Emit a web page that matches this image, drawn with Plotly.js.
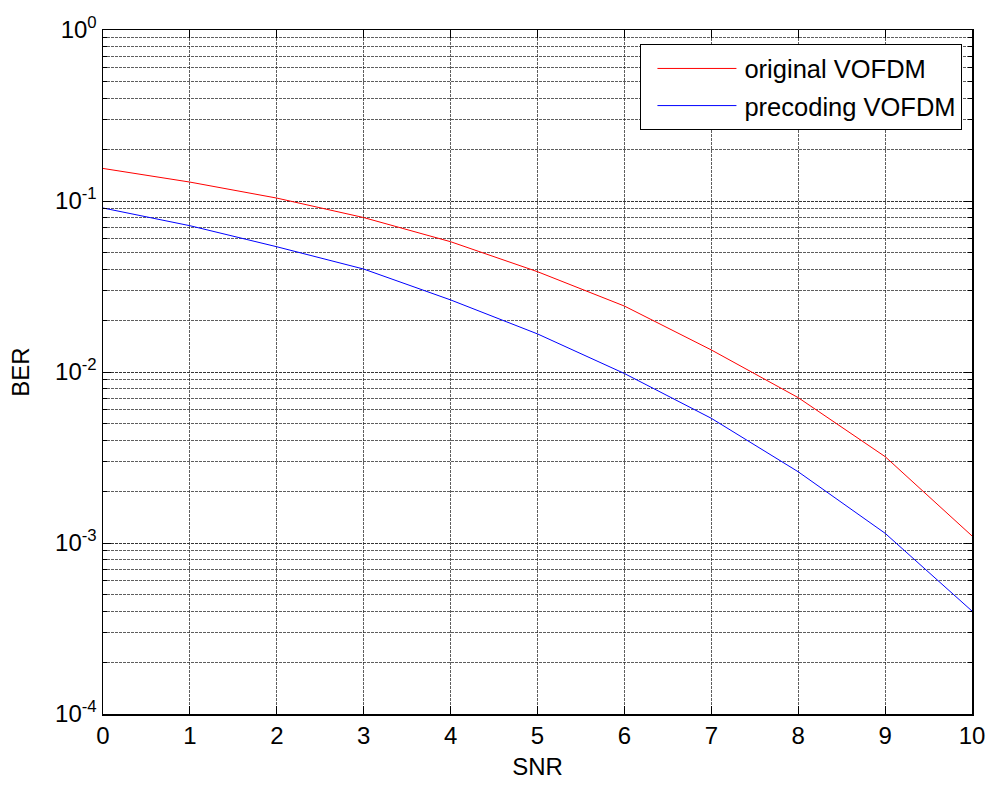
<!DOCTYPE html>
<html>
<head>
<meta charset="utf-8">
<script src="https://cdn.plot.ly/plotly-3.0.1.min.js"></script>
<style>html,body{margin:0;padding:0;background:#fff;}#chart{width:989px;height:785px;}</style>
</head>
<body>
<div id="chart"></div>
<script>
const snr = [0, 1, 2, 3, 4, 5, 6, 7, 8, 9, 10];
const berOriginal = [0.155, 0.129, 0.104, 0.080, 0.0578, 0.0386, 0.0243, 0.01346, 0.00708, 0.0032, 0.00110];
const berPrecoding = [0.091, 0.0717, 0.054, 0.040, 0.0264, 0.0167, 0.0098, 0.00536, 0.00261, 0.00114, 0.0004];
const seriesNames = ['original VOFDM', 'precoding VOFDM'];
const yTickVals = [1e-4, 1e-3, 1e-2, 1e-1, 1];
const yTickText = ['10<sup>-4</sup>', '10<sup>-3</sup>', '10<sup>-2</sup>', '10<sup>-1</sup>', '10<sup>0</sup>'];
const xTickVals = [0, 1, 2, 3, 4, 5, 6, 7, 8, 9, 10];

const fontFam = 'Liberation Sans, Arial, Helvetica, sans-serif';
const gridCol = 'rgba(40,40,40,0.75)';

const traces = [
  {x: snr, y: berOriginal, name: seriesNames[0], legendgroup: 'a', mode: 'lines', line: {color: '#ff0000', width: 1}},
  {x: snr, y: berPrecoding, name: seriesNames[1], legendgroup: 'b', mode: 'lines', line: {color: '#0000ff', width: 1}}
];

const layout = {
  width: 989, height: 785,
  margin: {l: 103, r: 17, t: 30, b: 71},
  paper_bgcolor: '#fff', plot_bgcolor: '#fff',
  font: {family: fontFam, size: 24, color: '#000'},
  showlegend: true,
  legend: {
    x: 0.989, y: 0.979, xanchor: 'right', yanchor: 'top',
    bgcolor: '#fff', bordercolor: '#000', borderwidth: 1,
    font: {family: fontFam, size: 25.5, color: '#000'},
    itemwidth: 93, tracegroupgap: 1
  },
  xaxis: {
    range: [0, 10], tickvals: xTickVals,
    showline: true, linecolor: '#000', linewidth: 1.5, mirror: 'ticks',
    ticks: 'inside', ticklen: 8, tickcolor: '#000',
    showgrid: true, gridcolor: gridCol, gridwidth: 1, griddash: '3px,1px',
    zeroline: false,
    tickfont: {family: fontFam, size: 24},
    title: {text: 'SNR', font: {family: fontFam, size: 24}, standoff: 10}
  },
  yaxis: {
    type: 'log', range: [-4, 0],
    tickvals: yTickVals, ticktext: yTickText,
    showline: true, linecolor: '#000', linewidth: 1.5, mirror: 'ticks',
    ticks: 'inside', ticklen: 8, tickcolor: '#000',
    showgrid: true, gridcolor: gridCol, gridwidth: 1, griddash: '3px,1px',
    zeroline: false,
    tickfont: {family: fontFam, size: 24},
    minor: {dtick: 'D1', showgrid: true, gridcolor: gridCol, gridwidth: 1, griddash: '3px,1px', ticks: 'inside', ticklen: 4, tickcolor: '#000'},
    title: {text: 'BER', font: {family: fontFam, size: 24}, standoff: 18}
  }
};

Plotly.newPlot('chart', traces, layout, {displayModeBar: false, staticPlot: true}).then(function (gd) {
  // lengthen legend line samples to match reference
  gd.querySelectorAll('.legend .legendlines path').forEach(function (p) {
    p.setAttribute('d', 'M16,0h79');
  });
});
</script>
</body>
</html>
